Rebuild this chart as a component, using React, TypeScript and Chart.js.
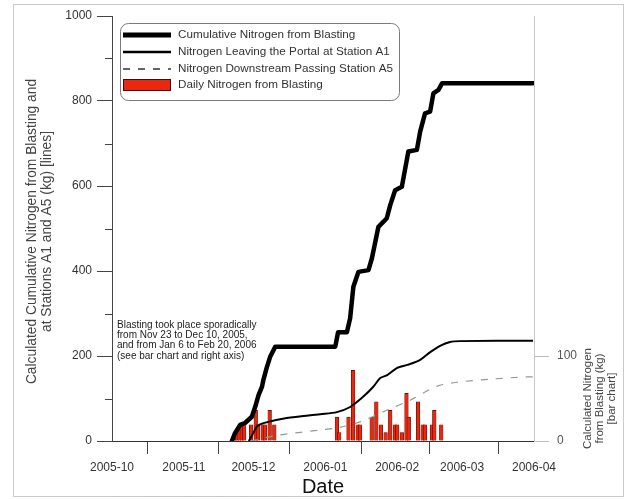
import React, { useEffect, useRef } from 'react';
import { Chart, registerables } from 'chart.js';

Chart.register(...registerables);

// x values are days since 2005-10-01
const monthTickDays = [0, 31, 61, 92, 123, 151, 182];
const monthTickLabels = ['2005-10', '2005-11', '2005-12', '2006-01', '2006-02', '2006-03', '2006-04'];

const leftTicks = [0, 200, 400, 600, 800, 1000];
const leftMinorTicks = [100, 300, 500, 700, 900];
const rightTicks = [0, 100];

const cumulativeDays = [51.7, 53.1, 55.3, 57.5, 60.3, 61.8, 63.2, 64.7, 65.3, 66.7, 68.2, 70.4, 96.3, 97.5, 101.3, 102.7, 104.1, 106.3, 110.6, 112.1, 114.9, 117.1, 118.5, 120, 122.1, 125, 127.8, 131.5, 132.9, 135, 137.2, 138.6, 140.8, 142.4, 181.6];
const cumulativeValues = [0, 19, 38, 43, 57, 81, 108, 128, 144, 172, 198, 222, 222, 256, 256, 289, 363, 398, 402, 430, 504, 516, 524, 555, 590, 598, 681, 685, 728, 771, 775, 818, 826, 842, 842];

const portalA1Days = [59, 60.5, 62.5, 65.3, 75.4, 89.8, 97, 102.7, 108.3, 112.6, 115.7, 118.7, 123, 127.3, 132.9, 137.2, 141.5, 145.8, 150.1, 181.6];
const portalA1Values = [0, 14, 34, 42, 54, 63, 68, 80, 104, 127, 148, 155, 172, 179, 191, 209, 224, 233, 235, 236];

const downstreamA5Days = [60, 71, 89.8, 97.2, 107, 118.7, 128.6, 140.2, 150.1, 164.4, 179, 181.6];
const downstreamA5Values = [0, 13, 26, 31, 45, 73, 96, 129, 139, 146, 151, 151];

const dailyDays = [53, 54, 55, 56, 57, 60, 62, 63, 65, 66, 68, 70, 97, 98, 102, 104, 106, 107, 112, 114, 116, 118, 120, 122, 123, 125, 127, 128, 132, 134, 135, 138, 139, 142];
const dailyValues = [10, 10, 19, 19, 19, 19, 36, 19, 19, 19, 36, 19, 28, 10, 28, 83, 19, 19, 28, 46, 19, 10, 36, 19, 19, 10, 56, 28, 46, 19, 19, 19, 36, 19];

const legendLabels = [
  'Cumulative Nitrogen from Blasting',
  'Nitrogen Leaving the Portal at Station A1',
  'Nitrogen Downstream Passing Station A5',
  'Daily Nitrogen from Blasting',
];

const noteLines = [
  'Blasting took place sporadically',
  'from Nov 23 to Dec 10, 2005,',
  'and from Jan 6 to Feb 20, 2006',
  '(see bar chart and right axis)',
];

const leftTitle = ['Calculated Cumulative Nitrogen from Blasting and', 'at Stations A1 and A5 (kg) [lines]'];
const rightTitle = ['Calculated Nitrogen', 'from Blasting (kg)', '[bar chart]'];
const xTitle = 'Date';

const FONT = '"Liberation Sans", Arial, sans-serif';
const BAR_FILL = '#e8290f';
const BAR_EDGE = '#4a0a04';
const A5_COLOR = '#8d9e92';

const toPoints = (xs: number[], ys: number[]) => xs.map((d, i) => ({ x: d, y: ys[i] }));

const decorPlugin = {
  id: 'decor',
  afterDraw(chart: any) {
    const ctx = chart.ctx as CanvasRenderingContext2D;
    const xs = chart.scales.x;
    const ys = chart.scales.y;
    const y1 = chart.scales.y1;
    ctx.save();

    // minor ticks on left axis
    ctx.strokeStyle = '#444';
    ctx.lineWidth = 1;
    for (const v of leftMinorTicks) {
      const py = Math.round(ys.getPixelForValue(v)) + 0.5;
      ctx.beginPath();
      ctx.moveTo(xs.left - 7, py);
      ctx.lineTo(xs.left, py);
      ctx.stroke();
    }

    // legend box
    const bx = 120.5, by = 23.5, bw = 279, bh = 77, r = 8;
    ctx.beginPath();
    ctx.moveTo(bx + r, by);
    ctx.lineTo(bx + bw - r, by);
    ctx.arcTo(bx + bw, by, bx + bw, by + r, r);
    ctx.lineTo(bx + bw, by + bh - r);
    ctx.arcTo(bx + bw, by + bh, bx + bw - r, by + bh, r);
    ctx.lineTo(bx + r, by + bh);
    ctx.arcTo(bx, by + bh, bx, by + bh - r, r);
    ctx.lineTo(bx, by + r);
    ctx.arcTo(bx, by, bx + r, by, r);
    ctx.closePath();
    ctx.fillStyle = '#fff';
    ctx.fill();
    ctx.strokeStyle = '#7a7a7a';
    ctx.lineWidth = 1;
    ctx.stroke();

    const rowY = [35, 52, 69, 85];
    const sx0 = 123, sx1 = 171;
    ctx.strokeStyle = '#000';
    ctx.lineWidth = 5;
    ctx.beginPath(); ctx.moveTo(sx0, rowY[0]); ctx.lineTo(sx1, rowY[0]); ctx.stroke();
    ctx.lineWidth = 2.5;
    ctx.beginPath(); ctx.moveTo(sx0, rowY[1]); ctx.lineTo(sx1, rowY[1]); ctx.stroke();
    ctx.lineWidth = 1.3;
    ctx.strokeStyle = '#333';
    ctx.setLineDash([7, 8]);
    ctx.beginPath(); ctx.moveTo(sx0, rowY[2]); ctx.lineTo(sx1, rowY[2]); ctx.stroke();
    ctx.setLineDash([]);
    ctx.fillStyle = BAR_FILL;
    ctx.fillRect(sx0, rowY[3] - 6, sx1 - sx0, 12);
    ctx.strokeStyle = BAR_EDGE;
    ctx.lineWidth = 1;
    ctx.strokeRect(sx0 + 0.5, rowY[3] - 5.5, sx1 - sx0 - 1, 11);

    ctx.fillStyle = '#333';
    ctx.font = `11.7px ${FONT}`;
    ctx.textAlign = 'left';
    ctx.textBaseline = 'middle';
    legendLabels.forEach((t, i) => ctx.fillText(t, 178, rowY[i]));

    // note text
    ctx.font = `10px ${FONT}`;
    ctx.fillStyle = '#222';
    noteLines.forEach((t, i) => ctx.fillText(t, 117, 325 + i * 10.3));

    // left title
    ctx.fillStyle = '#444';
    ctx.font = `13.8px ${FONT}`;
    ctx.textAlign = 'center';
    const cy = (ys.top + ys.bottom) / 2 + 3;
    ctx.save();
    ctx.translate(32, cy);
    ctx.rotate(-Math.PI / 2);
    ctx.fillText(leftTitle[0], 0, 0);
    ctx.fillText(leftTitle[1], 0, 15);
    ctx.restore();

    // right title
    ctx.font = `11.5px ${FONT}`;
    const rcy = (y1.getPixelForValue(0) + y1.getPixelForValue(100)) / 2;
    ctx.save();
    ctx.translate(588, rcy);
    ctx.rotate(-Math.PI / 2);
    rightTitle.forEach((t, i) => ctx.fillText(t, 0, i * 12));
    ctx.restore();

    // x title
    ctx.fillStyle = '#111';
    ctx.font = `20px ${FONT}`;
    ctx.fillText(xTitle, (xs.left + xs.right) / 2, 487);

    // outer frame
    ctx.setLineDash([1, 1]);
    ctx.strokeStyle = '#8f9a88';
    ctx.lineWidth = 1;
    ctx.strokeRect(13.5, 4.5, 610, 492);
    ctx.restore();
  },
};

export default function App() {
  const ref = useRef<HTMLCanvasElement | null>(null);

  useEffect(() => {
    document.body.style.margin = '0';
    const canvas = ref.current;
    if (!canvas) return;
    const chart = new Chart(canvas, {
      type: 'line',
      data: {
        datasets: [
          {
            type: 'line',
            label: legendLabels[0],
            data: toPoints(cumulativeDays, cumulativeValues),
            borderColor: '#000',
            borderWidth: 4.5,
            pointRadius: 0,
            tension: 0,
            borderJoinStyle: 'round',
            borderCapStyle: 'round',
            yAxisID: 'y',
            order: 0,
          },
          {
            type: 'line',
            label: legendLabels[1],
            data: toPoints(portalA1Days, portalA1Values),
            borderColor: '#000',
            borderWidth: 2,
            pointRadius: 0,
            tension: 0.3,
            yAxisID: 'y',
            order: 1,
          },
          {
            type: 'line',
            label: legendLabels[2],
            data: toPoints(downstreamA5Days, downstreamA5Values),
            borderColor: A5_COLOR,
            borderWidth: 1.2,
            borderDash: [7, 8],
            pointRadius: 0,
            tension: 0.3,
            yAxisID: 'y',
            order: 2,
          },
          {
            type: 'bar',
            label: legendLabels[3],
            data: toPoints(dailyDays, dailyValues),
            backgroundColor: BAR_FILL,
            borderColor: BAR_EDGE,
            borderWidth: 0.6,
            barThickness: 3.6,
            grouped: false,
            yAxisID: 'y1',
            order: 5,
          } as any,
        ],
      },
      options: {
        animation: false,
        responsive: false,
        maintainAspectRatio: false,
        layout: { padding: { top: 16, left: 0, right: 0, bottom: 0 } },
        plugins: { legend: { display: false }, tooltip: { enabled: false } },
        scales: {
          x: {
            type: 'linear',
            min: 0,
            max: 182,
            offset: false,
            afterBuildTicks: (s: any) => {
              s.ticks = monthTickDays.map((v) => ({ value: v }));
            },
            afterFit: (s: any) => {
              s.height = 58;
            },
            ticks: {
              callback: (v: any) => {
                const i = monthTickDays.indexOf(Number(v));
                return i >= 0 ? monthTickLabels[i] : '';
              },
              autoSkip: false,
              maxRotation: 0,
              color: '#333',
              padding: 6,
              font: { family: FONT, size: 12 },
            },
            grid: { drawOnChartArea: false, drawTicks: true, tickLength: 13, color: '#444' },
            border: { color: '#333', width: 1 },
          },
          y: {
            type: 'linear',
            position: 'left',
            min: 0,
            max: 1000,
            afterBuildTicks: (s: any) => {
              s.ticks = leftTicks.map((v) => ({ value: v }));
            },
            afterFit: (s: any) => {
              s.width = 112;
            },
            ticks: { color: '#333', padding: 5, font: { family: FONT, size: 12 }, callback: (v: any) => String(v) },
            grid: { drawOnChartArea: false, drawTicks: true, tickLength: 15, color: '#444' },
            border: { color: '#444', width: 1 },
          },
          y1: {
            type: 'linear',
            position: 'right',
            min: 0,
            max: 500,
            afterBuildTicks: (s: any) => {
              s.ticks = rightTicks.map((v) => ({ value: v }));
            },
            afterFit: (s: any) => {
              s.width = 92;
            },
            ticks: { color: '#555', padding: 8, font: { family: FONT, size: 12 }, callback: (v: any) => String(v) },
            grid: { drawOnChartArea: false, drawTicks: true, tickLength: 15, color: '#bbb' },
            border: { color: '#c8c8c8', width: 1 },
          },
        },
      },
      plugins: [decorPlugin],
    });
    return () => chart.destroy();
  }, []);

  return (
    <div style={{ width: 626, height: 499, overflow: 'hidden', background: '#fff' }}>
      <canvas ref={ref} width={626} height={499} style={{ display: 'block' }} />
    </div>
  );
}
